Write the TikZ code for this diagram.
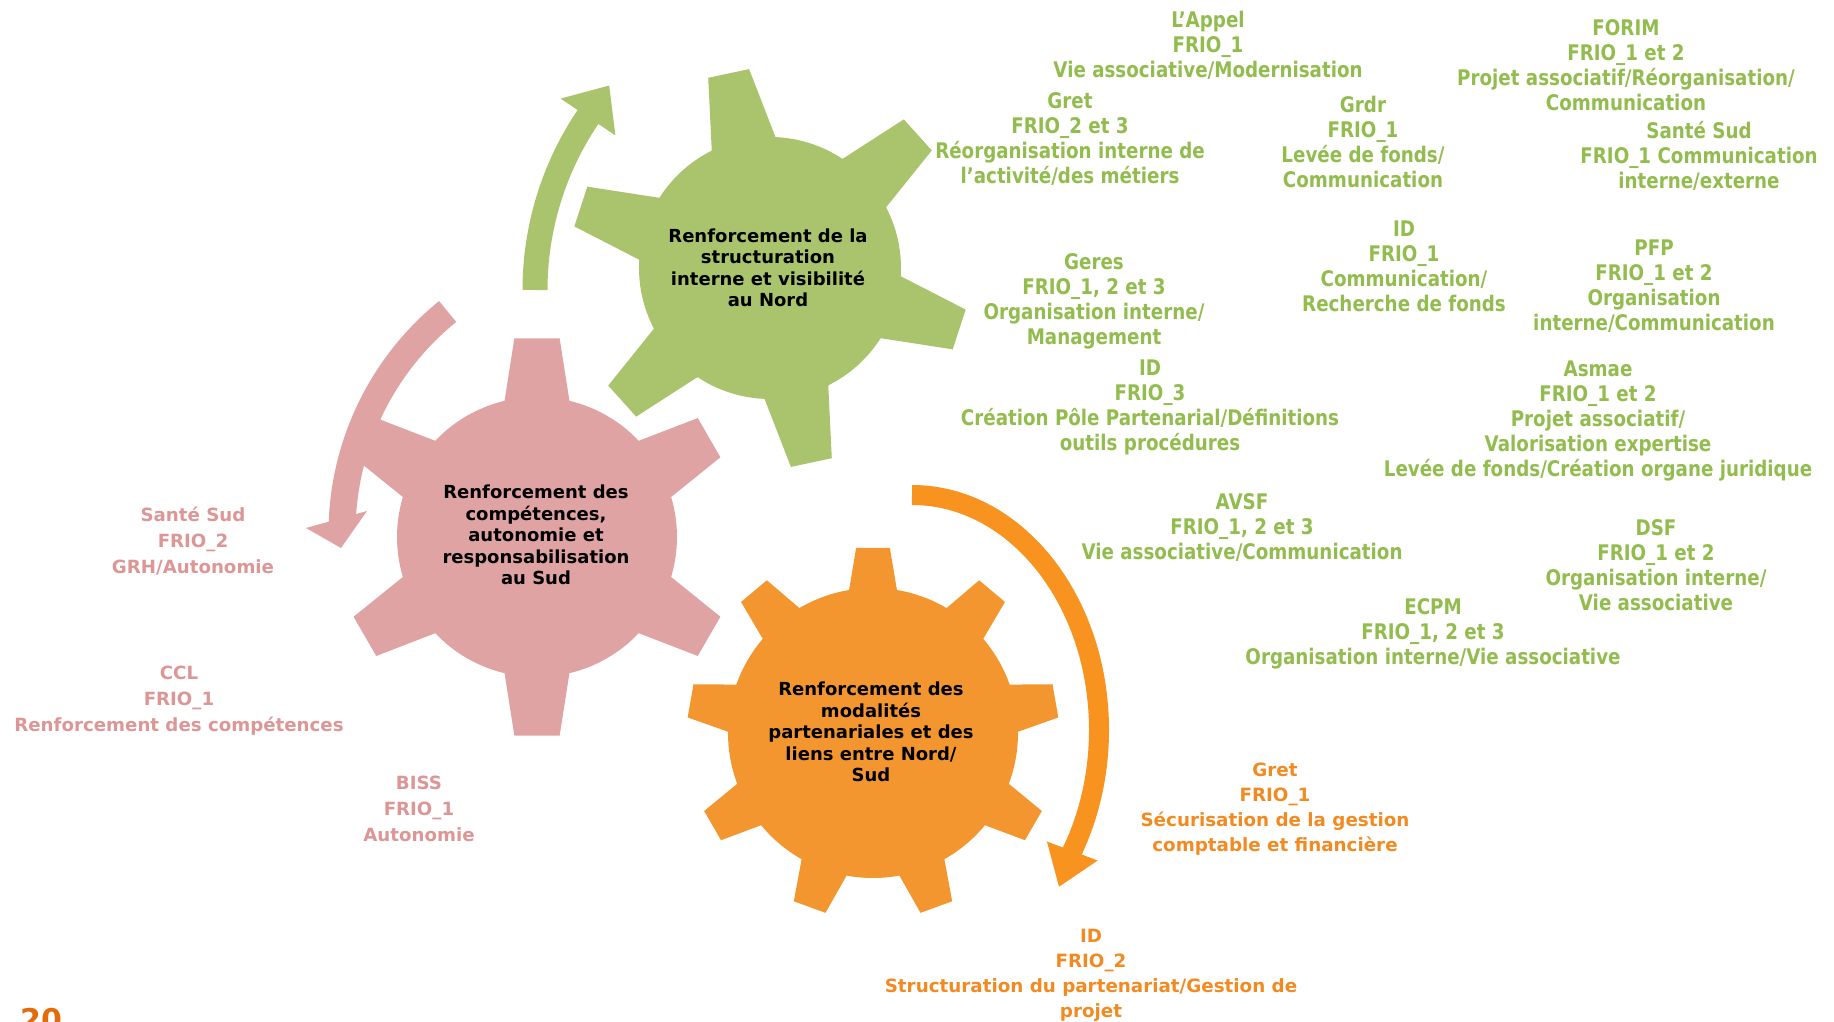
\documentclass[tikz,border=0pt]{standalone}
\usepackage{fontspec}
\setmainfont{DejaVu Sans}
\newfontfamily\condfont[FakeStretch=0.85]{DejaVu Sans}
\usetikzlibrary{calc}
\definecolor{gearG}{HTML}{A9C46C}
\definecolor{gearP}{HTML}{E0A3A3}
\definecolor{gearO}{HTML}{F4962F}
\definecolor{arrO}{HTML}{F7931E}
\definecolor{txtG}{HTML}{92BC4E}
\definecolor{txtP}{HTML}{DC9696}
\definecolor{txtO}{HTML}{F28A22}
\definecolor{pageO}{HTML}{E36C0A}
% #1 colour, #2 teeth-1, #3 step, #4 first angle, #5 body radius, #6 tip radius, #7 half angle base, #8 half angle tip
\newcommand\gearfill[8]{%
  \fill[#1] ({#4-#7}:#5)
    \foreach \k [evaluate=\k as \ga using {#4+\k*#3}] in {0,...,#2} {
      -- ({\ga-#8}:#6) -- ({\ga+#8}:#6) -- ({\ga+#7}:#5)
      arc[start angle={\ga+#7}, end angle={\ga+#3-#7}, radius=#5]
    } -- cycle;}
\begin{document}
\begin{tikzpicture}[x=1pt,y=-1pt,
  gtext/.style={text=txtG, font=\condfont\bfseries\fontsize{21.5}{25}\selectfont, align=center, inner sep=0pt},
  ptext/.style={text=txtP, font=\bfseries\fontsize{18.2}{26}\selectfont, align=center, inner sep=0pt},
  otext/.style={text=txtO, font=\bfseries\fontsize{18.3}{25}\selectfont, align=center, inner sep=0pt},
  geartext/.style={text=black, font=\bfseries\fontsize{18}{21.5}\selectfont, align=center, inner sep=0pt}]
\useasboundingbox (0,0) rectangle (1834,1022);

% gears
\begin{scope}[shift={(537,537)}]
  \gearfill{gearP}{5}{60}{-90}{140}{200}{13.4}{6.5}
\end{scope}
\begin{scope}[shift={(770,268)}]
  \gearfill{gearG}{5}{60}{-102}{131}{200}{14.4}{6.0}
\end{scope}
\begin{scope}[shift={(873,733)}]
  \gearfill{gearO}{8}{40}{-90}{145}{186}{9.5}{5.2}
\end{scope}

% curved arrows
\coordinate (gac) at (844,290);
\draw[gearG, line width=25pt] ($(gac)+(180:309)$) arc[start angle=180, end angle=214.5, radius=309];
\fill[gearG] (560.6,98.6) -- (609.2,85.5) -- (615.4,135.4) -- cycle;

\coordinate (pac) at (627,533);
\draw[gearP, line width=27pt] ($(pac)+(231:285)$) arc[start angle=231, end angle=182, radius=285];
\fill[gearP] (306,528) -- (341,548) -- (367,511) -- cycle;

\coordinate (oac) at (912,730);
\draw[arrO, line width=20pt] ($(oac)+(-90:187 and 235)$) arc[start angle=-90, end angle=31.5, x radius=187, y radius=235];
\fill[arrO] (1097.7,860.5) -- (1059,886.7) -- (1046.9,841.5) -- cycle;

% gear texts
\node[geartext] (tG) at (768,268) {Renforcement de la\\structuration\\interne et visibilité\\au Nord};
\node[geartext] (tP) at (536,535) {Renforcement des\\compétences,\\autonomie et\\responsabilisation\\au Sud};
\node[geartext] (tO) at (871,732) {Renforcement des\\modalités\\partenariales et des\\liens entre Nord/\\Sud};

% green labels
\node[gtext] (g1) at (1208,45) {L’Appel\\FRIO\_1\\Vie associative/Modernisation};
\node[gtext] (g2) at (1070,139.5) {Gret\\FRIO\_2 et 3\\Réorganisation interne de\\l’activité/des métiers};
\node[gtext] (g3) at (1363,141.5) {Grdr\\FRIO\_1\\Levée de fonds/\\Communication};
\node[gtext] (g4) at (1626,65.5) {FORIM\\FRIO\_1 et 2\\Projet associatif/Réorganisation/\\Communication};
\node[gtext] (g5) at (1699,156) {Santé Sud\\FRIO\_1 Communication\\interne/externe};
\node[gtext] (g6) at (1094,301) {Geres\\FRIO\_1, 2 et 3\\Organisation interne/\\Management};
\node[gtext] (g7) at (1404,266) {ID\\FRIO\_1\\Communication/\\Recherche de fonds};
\node[gtext] (g8) at (1654,286) {PFP\\FRIO\_1 et 2\\Organisation\\interne/Communication};
\node[gtext] (g9) at (1150,407.5) {ID\\FRIO\_3\\Création Pôle Partenarial/Définitions\\outils procédures};
\node[gtext] (g10) at (1598,420.5) {Asmae\\FRIO\_1 et 2\\Projet associatif/\\Valorisation expertise\\Levée de fonds/Création organe juridique};
\node[gtext] (g11) at (1242,528) {AVSF\\FRIO\_1, 2 et 3\\Vie associative/Communication};
\node[gtext] (g12) at (1656,565.5) {DSF\\FRIO\_1 et 2\\Organisation interne/\\Vie associative};
\node[gtext] (g13) at (1433,633.5) {ECPM\\FRIO\_1, 2 et 3\\Organisation interne/Vie associative};

% pink labels
\node[ptext] (p1) at (193,541.5) {Santé Sud\\FRIO\_2\\GRH/Autonomie};
\node[ptext] (p2) at (179,701) {CCL\\FRIO\_1\\Renforcement des compétences};
\node[ptext] (p3) at (419,809) {BISS\\FRIO\_1\\Autonomie};

% orange labels
\node[otext] (o1) at (1275,809) {Gret\\FRIO\_1\\Sécurisation de la gestion\\comptable et financière};
\node[otext] (o2) at (1091,975.5) {ID\\FRIO\_2\\Structuration du partenariat/Gestion de\\projet};

% page number
\node[text=pageO, font=\bfseries\fontsize{30}{36}\selectfont, inner sep=0pt, anchor=north] (pg) at (41,1008) {20};
\end{tikzpicture}
\end{document}
